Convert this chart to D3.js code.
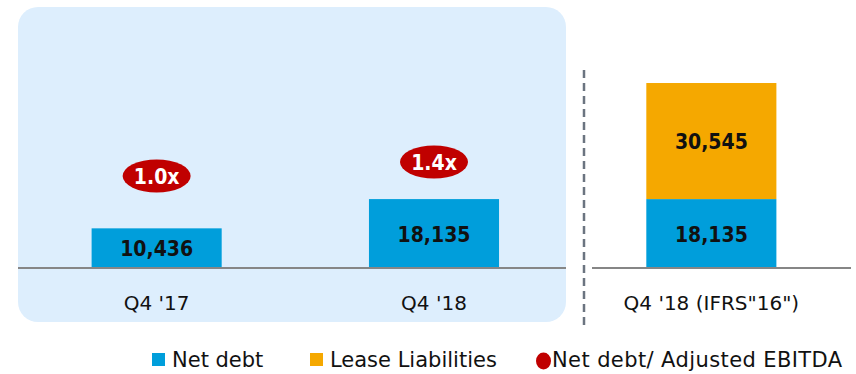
<!DOCTYPE html>
<html>
<head>
<meta charset="utf-8">
<script src="https://cdn.jsdelivr.net/npm/d3@7"></script>
<style>
  html, body { margin: 0; padding: 0; background: #fff; }
  svg { display: block; }
  text { font-family: "DejaVu Sans", sans-serif; }
  .num { font-family: "DejaVu Sans Condensed", "DejaVu Sans", sans-serif; font-weight: 700; }
</style>
</head>
<body>
<svg id="chart" width="856" height="374"></svg>
<script>
// Net debt and lease liabilities, RUB m
const categories = ["Q4 '17", "Q4 '18", "Q4 '18 (IFRS\"16\")"];
const netDebt = [10436, 18135, 18135];
const leaseLiabilities = [0, 0, 30545];
const leverage = [1.0, 1.4, null];   // Net debt / Adjusted EBITDA
const leverageLabels = ["1.0x", "1.4x", null];
const legendItems = ["Net debt", "Lease Liabilities", "Net debt/ Adjusted EBITDA"];

const colors = { netDebt: "#009EDB", lease: "#F5A800", ratio: "#C00000", panel: "#DDEEFD" };

const svg = d3.select("#chart");
const baseY = 268;

const x = d3.scaleBand().domain(categories).range([17, 851]).paddingInner(0.531).paddingOuter(0.269);
const y = d3.scaleLinear().domain([0, 50000]).range([baseY, baseY - 190]);
const yRatio = d3.scaleLinear().domain([1.0, 1.4]).range([176, 162]);

// shaded panel behind the pre-IFRS 16 figures
svg.append("rect")
  .attr("x", 18).attr("y", 7).attr("width", 548).attr("height", 315)
  .attr("rx", 20).attr("ry", 20)
  .attr("fill", colors.panel);

// dashed separator
svg.append("line")
  .attr("x1", 584).attr("x2", 584).attr("y1", 70).attr("y2", 328)
  .attr("stroke", "#6B7480").attr("stroke-width", 2.5)
  .attr("stroke-dasharray", "8,5");

// baselines
svg.append("line").attr("x1", 18).attr("x2", 566).attr("y1", baseY).attr("y2", baseY)
  .attr("stroke", "#868686").attr("stroke-width", 2);
svg.append("line").attr("x1", 592).attr("x2", 851).attr("y1", baseY).attr("y2", baseY)
  .attr("stroke", "#868686").attr("stroke-width", 2);

const rows = categories.map((c, i) => ({ c, nd: netDebt[i], ll: leaseLiabilities[i], r: leverage[i], rl: leverageLabels[i] }));

const g = svg.append("g");
// net debt bars
g.selectAll("rect.nd").data(rows).join("rect").attr("class", "nd")
  .attr("x", d => x(d.c)).attr("width", x.bandwidth())
  .attr("y", d => y(d.nd)).attr("height", d => y(0) - y(d.nd) - 1)
  .attr("fill", colors.netDebt);
// lease liabilities stacked on top
g.selectAll("rect.ll").data(rows.filter(d => d.ll > 0)).join("rect").attr("class", "ll")
  .attr("x", d => x(d.c)).attr("width", x.bandwidth())
  .attr("y", d => y(d.nd + d.ll)).attr("height", d => y(d.nd) - y(d.nd + d.ll))
  .attr("fill", colors.lease);

const fmt = d3.format(",");
g.selectAll("text.ndl").data(rows).join("text").attr("class", "ndl num")
  .attr("x", d => x(d.c) + x.bandwidth() / 2)
  .attr("y", d => (y(d.nd) + y(0)) / 2 + 8)
  .attr("text-anchor", "middle").attr("font-size", 21)
  .attr("fill", "#111").text(d => fmt(d.nd));
g.selectAll("text.lll").data(rows.filter(d => d.ll > 0)).join("text").attr("class", "lll num")
  .attr("x", d => x(d.c) + x.bandwidth() / 2)
  .attr("y", d => (y(d.nd) + y(d.nd + d.ll)) / 2 + 8)
  .attr("text-anchor", "middle").attr("font-size", 21)
  .attr("fill", "#111").text(d => fmt(d.ll));

// leverage badges
const badges = g.selectAll("g.badge").data(rows.filter(d => d.r != null)).join("g").attr("class", "badge")
  .attr("transform", d => `translate(${x(d.c) + x.bandwidth() / 2},${yRatio(d.r)})`);
badges.append("ellipse").attr("rx", 34).attr("ry", 16.5).attr("fill", colors.ratio);
badges.append("text").attr("class", "num").attr("text-anchor", "middle").attr("y", 8)
  .attr("font-size", 21).attr("fill", "#fff").text(d => d.rl);

// category labels
g.selectAll("text.cat").data(rows).join("text").attr("class", "cat")
  .attr("x", d => x(d.c) + x.bandwidth() / 2).attr("y", 310)
  .attr("text-anchor", "middle").attr("font-size", 20).attr("fill", "#111").text(d => d.c);

// legend
const legend = svg.append("g");
legend.append("rect").attr("x", 152).attr("y", 353).attr("width", 13).attr("height", 13).attr("fill", colors.netDebt);
legend.append("rect").attr("x", 310).attr("y", 353).attr("width", 13).attr("height", 13).attr("fill", colors.lease);
legend.append("ellipse").attr("cx", 543.5).attr("cy", 361).attr("rx", 7.5).attr("ry", 8.5).attr("fill", colors.ratio);
const tx = [172, 330, 552];
legend.selectAll("text").data(legendItems).join("text")
  .attr("x", (d, i) => tx[i]).attr("y", 367)
  .attr("font-size", 21).attr("letter-spacing", (d, i) => i === 2 ? 0.4 : 0)
  .attr("fill", "#111").text(d => d);
</script>
</body>
</html>
